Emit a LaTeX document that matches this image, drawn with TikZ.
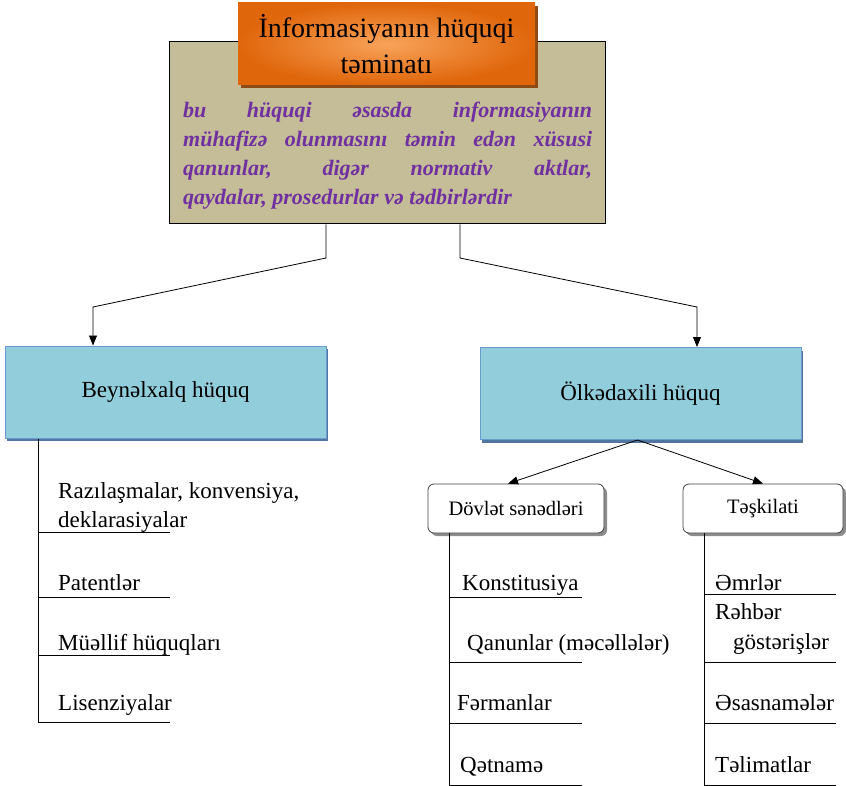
\documentclass[tikz,border=0pt]{standalone}
\usepackage{fontspec}
\setmainfont{Liberation Serif}
\usetikzlibrary{arrows.meta,shadows}

\definecolor{tanfill}{HTML}{C4BD97}
\definecolor{orangeedge}{HTML}{E0660B}
\definecolor{orangemid}{HTML}{F8A35A}
\definecolor{orangeshadow}{HTML}{8E4A14}
\definecolor{descpurple}{HTML}{7030A0}
\definecolor{bluefill}{HTML}{92CDDC}
\definecolor{blueedge}{HTML}{6A9BD0}
\definecolor{blueshadow}{HTML}{3F6798}

\tikzset{
  titlebox/.style={minimum width=297pt, minimum height=82pt, inner sep=0pt,
    inner color=orangemid, outer color=orangeedge,
    drop shadow={shadow xshift=3pt, shadow yshift=-3pt, fill=orangeshadow, opacity=1},
    align=center, font=\fontsize{28}{36}\selectfont},
  infobox/.style={draw=black, line width=1pt, fill=tanfill, minimum width=436pt,
    minimum height=182pt, inner sep=0pt},
  desc/.style={anchor=base west, inner sep=0pt, text=descpurple,
    font=\bfseries\itshape\fontsize{22}{29}\selectfont},
  bluebox/.style={draw=blueedge, line width=1pt, fill=bluefill, minimum width=321pt,
    minimum height=92pt, inner sep=0pt, font=\fontsize{23}{28}\selectfont,
    drop shadow={shadow xshift=2pt, shadow yshift=-3pt, fill=blueshadow, opacity=0.9}},
  subbox/.style={draw=black!75, line width=0.8pt, fill=white, rounded corners=6pt,
    minimum height=49pt, inner sep=0pt, font=\fontsize{20.5}{24}\selectfont,
    drop shadow={shadow xshift=3pt, shadow yshift=-3pt, fill=black!45, opacity=1}},
  item/.style={anchor=base west, inner sep=0pt, font=\fontsize{23}{28}\selectfont},
  link/.style={draw=black, line width=0.8pt},
  arr/.style={link, -{Triangle[length=10pt, width=8pt]}},
  rule/.style={draw=black, line width=0.8pt},
}

\begin{document}
\begin{tikzpicture}[x=1pt, y=-1pt]
\useasboundingbox (0,0) rectangle (846,786);

% top: definition box with its heading
\node[infobox] (info) at (387,133) {};
\node[titlebox] (title) at (386.5,44) {İnformasiyanın hüquqi\\təminatı};
\node[desc] (d1) at (183,118) {\makebox[409pt][s]{bu hüquqi əsasda informasiyanın}};
\node[desc] (d2) at (183,147) {\makebox[409pt][s]{mühafizə olunmasını təmin edən xüsusi}};
\node[desc] (d3) at (183,176) {\makebox[409pt][s]{qanunlar, digər normativ aktlar,}};
\node[desc] (d4) at (183,205) {qaydalar, prosedurlar və tədbirlərdir};

% the two branches
\node[bluebox] (beyn) at (165.5,392) {Beynəlxalq hüquq};
\node[bluebox] (olke) at (640.5,393.5) {Ölkədaxili hüquq};

\coordinate (la) at (326,258);
\coordinate (lb) at (93,307);
\coordinate (ra) at (460,258);
\coordinate (rb) at (697,307);
\draw[arr] (la |- info.south) -- (la) -- (lb) -- (lb |- beyn.north);
\draw[arr] (ra |- info.south) -- (ra) -- (rb) -- (rb |- olke.north);

% domestic law subdivisions
\node[subbox, minimum width=176pt] (dovlet) at (516,508.5) {Dövlət sənədləri};
\node[subbox, minimum width=160pt] (teskil) at (763,508.5) {Təşkilati};
\draw[arr] ([xshift=-3pt]olke.south) -- ([xshift=-8pt]dovlet.north);
\draw[arr] ([xshift=-3pt]olke.south) -- (teskil.north);

% international law list
\coordinate (bl) at (38,722);
\draw[rule] (bl |- beyn.south) -- (bl);
\foreach \yy in {532,597,655,722} \draw[rule] (38,\yy) -- (170,\yy);
\node[item] (b1) at (58,498) {Razılaşmalar, konvensiya,};
\node[item] (b2) at (58,527) {deklarasiyalar};
\node[item] (b3) at (58,590) {Patentlər};
\node[item] (b4) at (58,650) {Müəllif hüquqları};
\node[item] (b5) at (58,710) {Lisenziyalar};

% state documents list
\coordinate (dl) at (449,785);
\draw[rule] (dl |- dovlet.south) -- (dl);
\foreach \yy in {597,662,723,785} \draw[rule] (449,\yy) -- (582,\yy);
\node[item] (s1) at (462,590) {Konstitusiya};
\node[item] (s2) at (467,650) {Qanunlar (məcəllələr)};
\node[item] (s3) at (457,710) {Fərmanlar};
\node[item] (s4) at (460,772) {Qətnamə};

% organisational list
\coordinate (tl) at (704,785);
\draw[rule] (tl |- teskil.south) -- (tl);
\foreach \yy in {594,662,723,785} \draw[rule] (704,\yy) -- (836,\yy);
\node[item] (t1) at (715,590) {Əmrlər};
\node[item] (t2) at (715,619) {Rəhbər};
\node[item] (t3) at (733,649) {göstərişlər};
\node[item] (t4) at (715,710) {Əsasnamələr};
\node[item] (t5) at (715,772) {Təlimatlar};
\end{tikzpicture}
\end{document}
